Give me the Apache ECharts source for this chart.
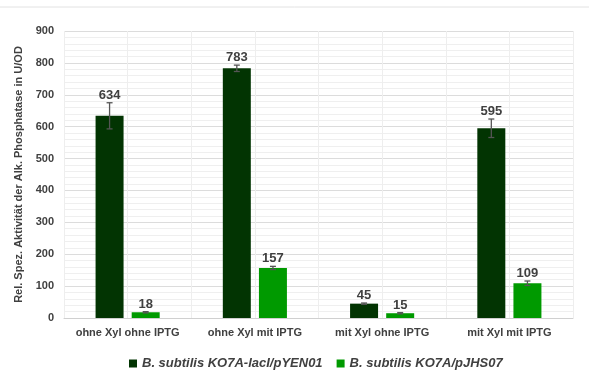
<!DOCTYPE html>
<html><head><meta charset="utf-8">
<script src="https://cdn.jsdelivr.net/npm/echarts@6/dist/echarts.min.js"></script>
<style>html,body{margin:0;padding:0;background:#fff}#c{width:589px;height:371px}</style>
</head><body><div id="c"></div>
<script>
var categories = ['ohne Xyl ohne IPTG', 'ohne Xyl mit IPTG', 'mit Xyl ohne IPTG', 'mit Xyl mit IPTG'];
var seriesNames = ['B. subtilis KO7A-lacI/pYEN01', 'B. subtilis KO7A/pJHS07'];
var valuesA = [634, 783, 45, 595];
var errorsA = [41, 10, 2, 29];
var valuesB = [18, 157, 15, 109];
var errorsB = [2, 5, 2, 7];
var yTicks = [0, 100, 200, 300, 400, 500, 600, 700, 800, 900];

var colA = '#023402', colB = '#009a00';
var txt = '#404040';
var font = 'Liberation Sans, Arial, sans-serif';

function errSeries(vals, errs, sign) {
  return {
    type: 'custom', xAxisIndex: 0, yAxisIndex: 0, z: 10, silent: true,
    data: vals.map(function (v, i) { return [i, v, errs[i]]; }),
    renderItem: function (params, api) {
      var i = api.value(0), v = api.value(1), e = api.value(2);
      var cw = api.size([1, 0])[0];
      var off = sign * cw * 0.22 * 1.29 / 2;
      var top = api.coord([i, v + e]);
      var bot = api.coord([i, v - e]);
      var x = top[0] + off, hw = 3;
      var st = { stroke: '#555', lineWidth: 1.3 };
      return { type: 'group', children: [
        { type: 'line', shape: { x1: x, y1: top[1], x2: x, y2: bot[1] }, style: st },
        { type: 'line', shape: { x1: x - hw, y1: top[1], x2: x + hw, y2: top[1] }, style: st },
        { type: 'line', shape: { x1: x - hw, y1: bot[1], x2: x + hw, y2: bot[1] }, style: st },
        { type: 'text', x: x, y: top[1] - 1, style: { text: String(v), align: 'center', verticalAlign: 'bottom',
          fill: txt, font: 'bold 13px ' + font } }
      ]};
    }
  };
}

var chart = echarts.init(document.getElementById('c'));
chart.setOption({
  animation: false,
  textStyle: { fontFamily: font },
  graphic: [{ type: 'line', shape: { x1: 0, y1: 7, x2: 589, y2: 7 }, style: { stroke: '#e2e2e2', lineWidth: 1 } }],
  grid: { left: 64, right: 16, top: 31, bottom: 53 },
  legend: {
    top: 352, left: 124, itemWidth: 8, itemHeight: 8, itemGap: 14,
    icon: 'rect',
    data: seriesNames,
    textStyle: { fontSize: 13, fontWeight: 'bold', fontStyle: 'italic', color: txt, fontFamily: font }
  },
  xAxis: [{
    type: 'category', data: categories,
    axisLine: { show: true, lineStyle: { color: '#d0d0d0' } },
    axisTick: { show: false },
    axisLabel: { interval: 0, color: txt, fontWeight: 'bold', fontSize: 11, margin: 9, fontFamily: font },
    splitLine: { show: true, lineStyle: { color: '#d8d8d8' } }
  }, {
    type: 'category', data: ['a','b','c','d','e','f','g','h'], position: 'bottom',
    axisLine: { show: false }, axisTick: { show: false }, axisLabel: { show: false },
    splitLine: { show: true, interval: 0, lineStyle: { color: '#eeeeee' } }
  }],
  yAxis: {
    type: 'value', min: 0, max: 900, interval: 100,
    name: 'Rel. Spez. Aktivität der Alk. Phosphatase in U/OD',
    nameLocation: 'middle', nameGap: 40, nameRotate: 90,
    nameTextStyle: { color: txt, fontWeight: 'bold', fontSize: 11, fontFamily: font },
    axisLine: { show: false }, axisTick: { show: false },
    axisLabel: { color: txt, fontWeight: 'bold', fontSize: 11, margin: 10, fontFamily: font,
      formatter: function (v) { return yTicks.indexOf(v) >= 0 ? String(v) : ''; } },
    splitLine: { show: true, lineStyle: { color: '#dcdcdc' } },
    minorTick: { show: false, splitNumber: 5 },
    minorSplitLine: { show: true, lineStyle: { color: '#efefef' } }
  },
  series: [{
    name: seriesNames[0], type: 'bar', data: valuesA, barWidth: '22%', barGap: '29%',
    itemStyle: { color: colA }
  }, {
    name: seriesNames[1], type: 'bar', data: valuesB, barWidth: '22%', barGap: '29%',
    itemStyle: { color: colB }
  }, errSeries(valuesA, errorsA, -1), errSeries(valuesB, errorsB, 1)]
});
</script></body></html>
